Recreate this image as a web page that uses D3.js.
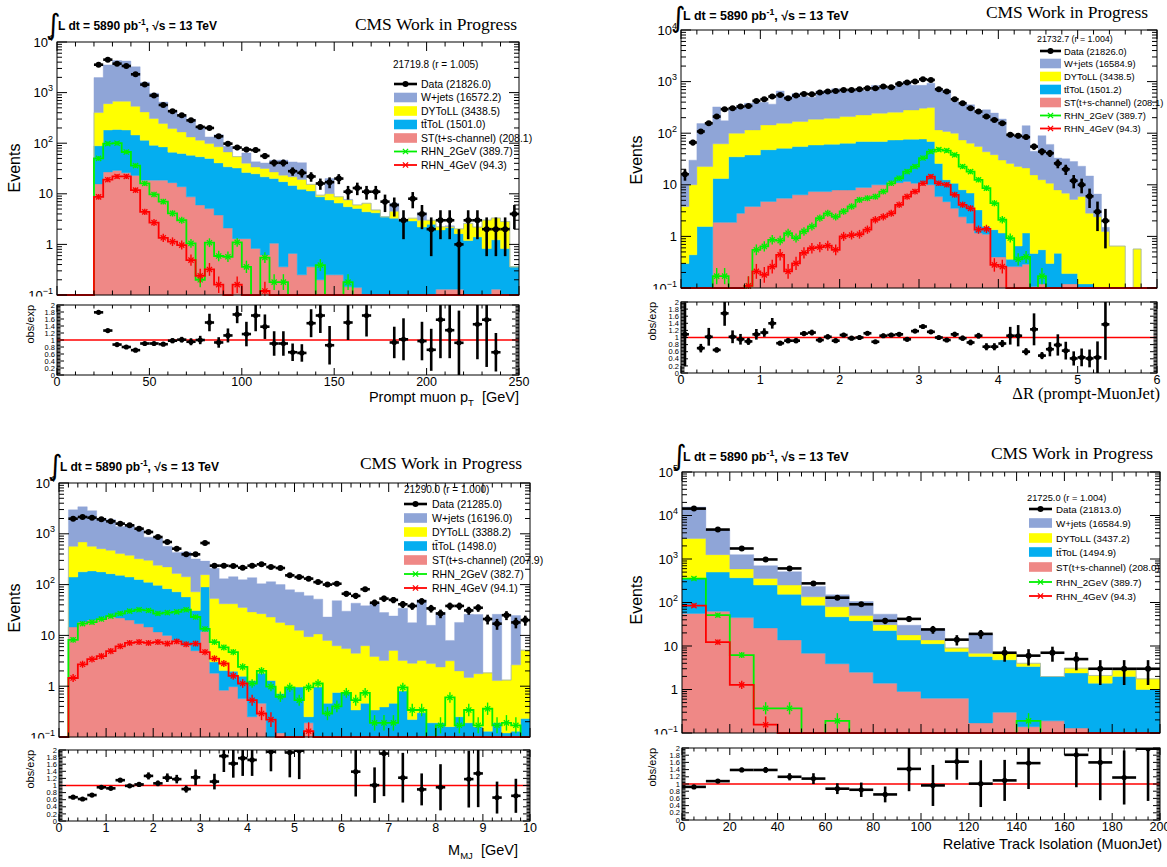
<!DOCTYPE html>
<html>
<head>
<meta charset="utf-8">
<script src="https://cdn.jsdelivr.net/npm/d3@7"></script>
<style>
  body { margin: 0; background: #fff; }
  svg { display: block; }
  text { fill: #000; }
</style>
</head>
<body>
<svg id="canvas" width="1167" height="867"></svg>
<script>
// ---------------------------------------------------------------------------
// Prompt muon pT, 50 bins over 0-250 GeV
const ptData = [0,0,0,0,3560,4480,3730,3360,2300,1440,875,570,430,355,283,210,200,137,98,82,75,73,56,41,41,28,26,22,16,17,20,11,13,11,11,7,6,3,8,4,2,3,3,1,3,3,2,2,2,4];
const ptST   = [0,0,0,0,15.7,27,29,26,23,18.6,18.6,18.6,16.6,13.8,8.7,6.0,5.1,3.8,2.1,1.3,1.3,0.83,0.62,1.05,0.36,0.66,0.25,0.36,0.2,0.25,0.25,0.145,0.14,0.1,0,0,0,0,0,0,0,0.13,0.13,0.13,0,0,0,0.13,0,0];
const ptTT   = [0,0,0,0,73,155,158,156,122,96,72,66,50,49,49,48,45,37,32,31,25,24,21,19,17,14,12,11,8.5,7.3,6.3,5.4,5.0,4.3,4.2,3.5,3.3,3.0,2.9,2.2,2.5,1.8,2.0,1.5,1.2,1.4,0.83,1.1,0.83,0.36];
const ptDY   = [0,0,0,0,314,423,488,493,390,300,217,160,128,104,75,61,48,44,33,22,14,9,10,7,6,7,7,4,0.7,2.5,2.2,2.0,0.9,2.1,0.6,0,1.2,0,0.4,0.8,0.5,0.3,0.1,0.4,1.4,0.8,2.2,2.1,2.0,0];
const ptWJ   = [0,0,0,0,1577,2925,3615,3525,2705,1185,662,405,245,183,165,95,35,62,20,0,24,9,9,19,23,21,22,0,0,10,0,0.2,0,0,0,0,2,0,0,1.2,0,0,0.1,0,0,0,0,0,0,0];
const ptRHN2 = [0,0,0,0,50,98,100,67,36,16,9.7,7.0,4.1,3.0,1.05,0.2,1.08,0.59,0.57,1.1,0.36,0,0.55,0.18,0.18,0,0,0,0.39,0,0,0.18,0,0,0,0,0,0,0,0,0,0,0,0,0,0,0,0,0,0];
const ptRHN4 = [0,0,0,0,8.7,19,22,22,11.8,4.4,2.7,1.35,1.13,0.97,0.49,0.24,0.32,0.16,0,0.16,0,0,0.12,0,0,0,0,0,0,0,0,0,0,0,0,0,0,0,0,0,0,0,0,0,0,0,0,0,0,0];
const ptRatio = [null,null,null,null,1.79,1.27,0.87,0.80,0.71,0.90,0.90,0.88,0.98,1.01,0.95,1.0,1.5,0.93,1.13,1.73,1.17,1.70,1.38,0.90,0.90,0.65,0.63,1.48,1.70,0.85,null,1.5,null,1.7,null,null,0.93,1.02,null,0.97,0.72,1.58,1.28,0.92,null,1.45,1.58,0.65,null,null];
const ptRatioErr = [0,0,0,0,0.05,0.03,0.03,0.03,0.03,0.04,0.04,0.05,0.07,0.08,0.1,0.12,0.25,0.15,0.2,0.25,0.35,0.45,0.35,0.35,0.35,0.25,0.25,0.4,0.5,0.55,0,0.5,0,0.6,0,0,0.45,0.6,0,0.55,0.6,1.1,0.8,0.92,0,1.0,1.35,0.55,0,0];

// Delta R (prompt muon, muon jet), 60 bins over 0-6
const drData = [16,66,108,156,210,292,305,328,338,423,455,513,552,476,535,577,569,612,640,659,690,690,711,743,743,800,777,901,957,1000,1110,1077,711,640,455,381,305,263,210,181,156,93,89,84,55,44,41,26,20,12,10,6,3,2,0,0,0,0,0,0];
const drST   = [0,0,0,0,1.87,1.87,1.87,2.8,3.8,3.8,4.75,4.75,5.5,5.5,6.4,6.4,7.4,7.4,7.4,7.9,7.9,7.9,8.9,8.9,10,10,11.6,11,11.6,10.7,11,10,5.9,4.7,3.5,2.4,1.8,1.16,1.1,0.4,0.4,0.26,0.26,0.29,0.107,0.12,0.1,0.1,0.12,0.12,0,0,0,0,0,0,0,0,0,0];
const drTT   = [0.3,0.44,1.56,1.56,11.4,11.4,33,32,34,34,43,43,45.5,45.5,48.6,48.6,51.6,51.6,53.6,53.1,56,56,60,60,59,59,62,63,65,66,66,59,20,7.8,7.2,5.6,5.1,2.1,0.46,0.95,0.76,0.1,0.39,0.87,0.36,0.43,0.2,0.37,0.07,0.07,0.12,0.12,0,0,0,0,0,0,0,0];
const drDY   = [3.5,9.6,21,21,49,49,65,65,78,78,97,97,105,105,113,113,128,128,133,133,146,146,157,157,175,175,182,182,205,205,228,245,90,95.5,89,66,57,52,42,37,29,25.6,22,20,15.1,12,10.4,7.5,6.7,5.0,5.8,2.7,2.4,1.25,0.65,0.65,0,0.57,0,0];
const drWJ   = [11,20,131,130,261,112,199,245,264,272,254,221,501,367,420,352,312,471,433,530,435,494,485,437,600,518,470,571,725,565,542,614,595,580,317,315,291,195,240,207,158,63,62,119,29,77,50,25,25,23,17,12,4.2,0.25,0,0,0,0,0,0];
const drRHN2 = [0,0,0,0,0.17,0.17,0,0,0.11,0.55,0.64,0.86,0.83,1.16,0.93,1.25,1.56,2.26,2.8,2.4,3.05,3.8,5.1,5.5,5.9,7.4,10.7,13.4,18,22.6,33,44,48,46,38,22.6,18,12.5,8.6,4.4,2.1,0.93,0.36,0.4,0,0.17,0,0,0,0,0,0,0,0,0,0,0,0,0,0];
const drRHN4 = [0,0,0,0,0,0,0,0,0.11,0.21,0.18,0.26,0.44,0.21,0.3,0.48,0.59,0.62,0.66,0.55,1.0,1.06,1.1,1.35,2.1,2.4,2.8,4.1,5.9,7.4,10.7,14.4,10.7,10,6.4,4.1,3.5,1.35,1.4,0.28,0.26,0,0,0,0,0,0,0,0,0,0,0,0,0,0,0,0,0,0,0];
const drRatio = [1.09,null,0.70,1.02,0.65,1.68,1.02,0.95,0.89,1.09,1.14,1.40,0.84,0.91,0.91,1.11,1.14,0.93,1.02,0.91,1.07,0.98,1.0,1.12,0.88,1.05,1.07,1.09,0.95,1.18,1.31,1.16,1.0,0.93,1.09,0.98,0.86,1.05,0.74,0.74,0.83,1.05,1.05,0.60,1.23,0.49,0.67,0.79,0.63,0.41,0.44,0.41,0.44,1.37,null,null,null,null,null,null];
const drRatioErr = [0.9,0,0.12,0.25,0.07,0.35,0.18,0.15,0.1,0.15,0.12,0.15,0.06,0.07,0.07,0.07,0.08,0.07,0.07,0.06,0.06,0.06,0.06,0.06,0.05,0.06,0.06,0.05,0.05,0.05,0.05,0.05,0.05,0.06,0.07,0.07,0.08,0.08,0.1,0.1,0.1,0.25,0.3,0.1,0.45,0.1,0.2,0.3,0.25,0.2,0.25,0.25,0.45,1.0,0,0,0,0,0,0];

// Muon-jet mass M_MJ, 50 bins over 0-10 GeV
const mjData = [0,1985,2143,2080,1928,1760,1584,1468,1262,1085,864,690,510,394,394,659,236,236,232,215,236,251,222,212,152,141,131,112,100,104,66,60,81,44,53,50,41,38,47,34,27,38,38,31,35,21,17,25,18,20];
const mjST   = [0,14.6,18.3,20,22,23,22,20,17,14.6,11.7,10,8,6.3,5.0,12,1.8,0.83,0.98,0.57,0.25,0.46,0.1,0.12,0,0,0.19,0,0,0,0,0,0,0,0,0,0,0,0,0,0,0,0,0,0,0,0,0,0,0];
const mjTT   = [0,126,160,166,156,141,130,121,109,97,85,73,64,51,26,78,1.2,1.2,1.0,1.0,1.05,1.34,1.2,0.6,0.96,0.96,0.06,0.96,0.46,0.75,0.75,0.34,0.46,0.34,0.39,0.46,0.8,0.22,0.3,0.19,0.19,0.16,0.25,0.19,0.16,0.13,0.19,0.12,0.13,0.23];
const mjDY   = [0,425,512,380,331,309,256,236,197,189,144,140,94,85,41,67,50,40,40,34,27.7,25,21.7,17.3,15,11.6,9.2,9.7,7.5,5.5,4.75,4.1,5.8,3.5,2.8,4.6,2.4,2.6,2.9,2.6,2.2,3.0,1.75,1.3,1.6,1.7,1.1,1.2,2.5,4.9];
const mjWJ   = [0,2394,2710,2284,1521,1427,992,1103,897,559,579,347,264,298,248,133,157,88,101,89,108,77,91,82,63,58,51,41,15,42,24.5,38.6,32,40,25,19,31,15,47,13,26,4.8,16,24.5,24,0,24.7,0,22,0];
const mjRHN2 = [0,8.2,17,18.3,21,24,27,30,32,31,27,28,29,32,23,13.4,7.4,5.8,4.7,2.4,1.13,2.0,0.98,0.62,0.95,0.53,0.95,1.13,0.29,0.4,0.74,0.53,0.74,0.19,0.19,0.19,0.95,0.34,0.34,0,0.17,0.6,0.17,0.34,0.17,0.36,0.17,0.19,0.17,0];
const mjRHN4 = [0,1.45,2.7,3.4,3.9,4.9,6.1,7.1,7.4,7.1,7.4,6.9,7.6,6.7,6.9,4.7,3.5,2.8,1.6,1.13,0.53,0.29,0.22,0,0,0,0.13,0,0,0,0,0,0,0,0,0,0,0,0,0,0,0,0,0,0,0,0,0,0,0];
const mjRatio = [null,0.67,0.62,0.73,0.95,0.92,1.15,0.99,1.03,1.27,1.06,1.22,1.18,0.90,1.23,null,1.11,1.83,1.62,1.77,1.72,null,1.95,null,1.93,1.98,null,null,null,null,null,1.39,null,1.01,1.9,null,1.22,null,0.89,null,0.95,null,null,1.18,1.34,null,0.66,null,0.71,null];
const mjRatioErr = [0,0.03,0.03,0.04,0.05,0.04,0.05,0.05,0.06,0.1,0.08,0.12,0.12,0.1,0.22,0,0.22,0.45,0.4,0.5,0.45,0,0.55,0,0.7,0.8,0,0,0,0,0,0.7,0,0.5,1.2,0,0.7,0,0.45,0,0.65,0,0,0.8,0.95,0,0.45,0,0.48,0];

// Relative track isolation of the muon jet, 20 bins over 0-200
const isoData = [14400,4750,1745,976,607,275,129,91,38,42,24,14,19,7,6,7,5,3,3,3];
const isoST   = [56,63,45,26,13.8,6.8,3.9,2.5,1.4,0.9,0.63,0.63,0.17,0.3,0.14,0.19,0.13,0,0,0];
const isoTT   = [301,437,325,226,140,80,43,35.5,21.2,12.8,10.6,6.8,5.6,4.5,3.26,1.8,2.27,1.4,2.0,1.0];
const isoDY   = [2593,760,220,105,98,48,33,12,8.4,4.3,2.5,1.6,1.0,2.0,0.6,0,0.7,0.7,0.8,0.76];
const isoWJ   = [12650,3440,670,343,258,100,70,55,23,12,11.3,0,12.2,0,0,0,0,0,0,0];
const isoRHN2 = [355,51,6.2,0.37,0.37,0,0.19,0,0,0,0,0,0,0,0.19,0,0,0,0,0];
const isoRHN4 = [85,12.3,1.28,0.155,0,0,0,0,0,0,0,0,0,0,0,0,0,0,0,0];
const isoRatio = [0.92,1.08,1.39,1.39,1.2,1.15,0.87,0.84,0.71,1.42,0.96,1.62,1.01,1.1,1.58,null,1.81,1.6,1.18,1.98];
const isoRatioErr = [0.03,0.03,0.06,0.08,0.1,0.15,0.15,0.2,0.22,0.62,0.57,0.5,0.65,0.57,0.72,0,0.9,1.05,0.75,1.45];

// Legend texts
const ptLegend  = ["21719.8 (r = 1.005)", "Data (21826.0)", "W+jets (16572.2)", "DYToLL (3438.5)", "tt\u0304ToL (1501.0)", "ST(t+s-channel) (208.1)", "RHN_2GeV (389.7)", "RHN_4GeV (94.3)"];
const drLegend  = ["21732.7 (r = 1.004)", "Data (21826.0)", "W+jets (16584.9)", "DYToLL (3438.5)", "tt\u0304ToL (1501.2)", "ST(t+s-channel) (208.1)", "RHN_2GeV (389.7)", "RHN_4GeV (94.3)"];
const mjLegend  = ["21290.0 (r = 1.000)", "Data (21285.0)", "W+jets (16196.0)", "DYToLL (3388.2)", "tt\u0304ToL (1498.0)", "ST(t+s-channel) (207.9)", "RHN_2GeV (382.7)", "RHN_4GeV (94.1)"];
const isoLegend = ["21725.0 (r = 1.004)", "Data (21813.0)", "W+jets (16584.9)", "DYToLL (3437.2)", "tt\u0304ToL (1494.9)", "ST(t+s-channel) (208.0)", "RHN_2GeV (389.7)", "RHN_4GeV (94.3)"];

const ratioTicks = [0, 0.2, 0.4, 0.6, 0.8, 1, 1.2, 1.4, 1.6, 1.8, 2];
// ---------------------------------------------------------------------------

const SANS = "\"Liberation Sans\", Arial, Helvetica, sans-serif";
const SERIF = "\"Liberation Serif\", \"Times New Roman\", serif";
const COLORS = { wj: "#8fa5d7", dy: "#ffff00", tt: "#04aef0", st: "#ef8886", rhn2: "#00f000", rhn4: "#ff0000" };
const svg = d3.select("#canvas").style("font-family", SANS);

const panels = [
  { id: "pt", xDomain: [0, 250], yDomain: [0.1, 1e4], x0: 57, x1: 519, y0: 42, y1: 295, ry0: 305, ry1: 375,
    xMajor: 50, xMinor: 10, data: ptData, st: ptST, tt: ptTT, dy: ptDY, wj: ptWJ, rhn2: ptRHN2, rhn4: ptRHN4,
    ratio: ptRatio, ratioErr: ptRatioErr, legend: ptLegend,
    lumi: { ix: 46, iy: 34, x: 58, y: 30, fs: 12 }, cms: { x: 517, y: 30 },
    leg: { hx: 393, hy: 64, rows: [84, 97.5, 111, 124.5, 138, 151.5, 165], bx0: 394, bx1: 417, tx: 421, fs: 10.5 },
    events: { x: 14, y: 168 }, obs: { x: 30 }, xLabelY: 386,
    xTitle: { x: 519, y: 406, serif: false, parts: [["Prompt muon p"], ["T", "sub"], ["\u00a0 [GeV]"]] } },
  { id: "dr", xDomain: [0, 6], yDomain: [0.1, 1e4], x0: 681, x1: 1157, y0: 30, y1: 288, ry0: 302, ry1: 373,
    xMajor: 1, xMinor: 0.2, data: drData, st: drST, tt: drTT, dy: drDY, wj: drWJ, rhn2: drRHN2, rhn4: drRHN4,
    ratio: drRatio, ratioErr: drRatioErr, legend: drLegend,
    lumi: { ix: 671, iy: 27, x: 683, y: 20, fs: 12.5 }, cms: { x: 1148, y: 18 },
    leg: { hx: 1037, hy: 38, rows: [51, 63.5, 76.5, 89.5, 102.5, 115.5, 128.5], bx0: 1040, bx1: 1061, tx: 1064, fs: 9.4 },
    events: { x: 636, y: 160 }, obs: { x: 652 }, xLabelY: 384,
    xTitle: { x: 1160, y: 403, serif: true, parts: [["\u0394R (prompt-MuonJet)"]] } },
  { id: "mj", xDomain: [0, 10], yDomain: [0.1, 1e4], x0: 59, x1: 530, y0: 483, y1: 737, ry0: 750, ry1: 821,
    xMajor: 1, xMinor: 0.2, data: mjData, st: mjST, tt: mjTT, dy: mjDY, wj: mjWJ, rhn2: mjRHN2, rhn4: mjRHN4,
    ratio: mjRatio, ratioErr: mjRatioErr, legend: mjLegend,
    lumi: { ix: 48, iy: 475, x: 60, y: 471, fs: 12 }, cms: { x: 522, y: 469 },
    leg: { hx: 404, hy: 489, rows: [504, 518, 532, 546, 560, 574, 588], bx0: 404, bx1: 427, tx: 432, fs: 10.5 },
    events: { x: 14, y: 608 }, obs: { x: 30 }, xLabelY: 832,
    xTitle: { x: 518, y: 859, serif: false, parts: [["M"], ["MJ", "sub"], ["\u00a0 [GeV]"]] } },
  { id: "iso", xDomain: [0, 200], yDomain: [0.1, 1e5], x0: 682, x1: 1160, y0: 472, y1: 733, ry0: 748, ry1: 820,
    xMajor: 20, xMinor: 5, data: isoData, st: isoST, tt: isoTT, dy: isoDY, wj: isoWJ, rhn2: isoRHN2, rhn4: isoRHN4,
    ratio: isoRatio, ratioErr: isoRatioErr, legend: isoLegend,
    lumi: { ix: 672, iy: 465, x: 683, y: 461, fs: 12.5 }, cms: { x: 1153, y: 459 },
    leg: { hx: 1027, hy: 497, rows: [509, 523, 538, 552, 567, 582, 596], bx0: 1029, bx1: 1052, tx: 1056, fs: 9.8 },
    events: { x: 636, y: 600 }, obs: { x: 652 }, xLabelY: 831,
    xTitle: { x: 1162, y: 853, serif: false, parts: [["Relative Track Isolation (MuonJet)"]] } }
];

function fmtTick(v) { return (+v.toFixed(2)).toString(); }

function drawPanel(p) {
  const g = svg.append("g").attr("class", "panel-" + p.id);
  const n = p.data.length;
  const bw = (p.xDomain[1] - p.xDomain[0]) / n;
  const edges = d3.range(n + 1).map(i => p.xDomain[0] + i * bw);
  const centers = d3.range(n).map(i => p.xDomain[0] + (i + 0.5) * bw);
  const x = d3.scaleLinear().domain(p.xDomain).range([p.x0, p.x1]);
  const y = d3.scaleLog().domain(p.yDomain).range([p.y1, p.y0]);
  const yr = d3.scaleLinear().domain([0, 2]).range([p.ry1, p.ry0]);
  const ymin = p.yDomain[0];
  const cy = v => y(Math.max(v, ymin));

  const defs = svg.append("defs");
  defs.append("clipPath").attr("id", "clip-" + p.id).append("rect")
    .attr("x", p.x0).attr("y", p.y0).attr("width", p.x1 - p.x0).attr("height", p.y1 - p.y0 + 1);
  defs.append("clipPath").attr("id", "rclip-" + p.id).append("rect")
    .attr("x", p.x0).attr("y", p.ry0).attr("width", p.x1 - p.x0).attr("height", p.ry1 - p.ry0);

  // ---- stacked backgrounds
  const plot = g.append("g").attr("clip-path", `url(#clip-${p.id})`);
  const rows = d3.range(n).map(i => ({ st: p.st[i], tt: p.tt[i], dy: p.dy[i], wj: p.wj[i] }));
  const layers = d3.stack().keys(["st", "tt", "dy", "wj"])(rows);
  const area = d3.area().x(d => x(d.x)).y0(d => cy(d.lo)).y1(d => cy(d.hi));
  layers.forEach(layer => {
    const pts = [];
    layer.forEach((d, i) => {
      pts.push({ x: edges[i], lo: d[0], hi: d[1] });
      pts.push({ x: edges[i + 1], lo: d[0], hi: d[1] });
    });
    plot.append("path").attr("d", area(pts)).attr("fill", COLORS[layer.key])
      .attr("stroke", COLORS[layer.key]).attr("stroke-width", 0.4);
  });

  // ---- signal histograms
  [["rhn2", p.rhn2], ["rhn4", p.rhn4]].forEach(([key, vals]) => {
    const pts = [];
    vals.forEach((v, i) => { pts.push([x(edges[i]), cy(v)]); pts.push([x(edges[i + 1]), cy(v)]); });
    plot.append("path").attr("d", d3.line()(pts)).attr("fill", "none")
      .attr("stroke", COLORS[key]).attr("stroke-width", 1.8);
    vals.forEach((v, i) => {
      if (v <= ymin) return;
      const cx = x(centers[i]), yy = y(v);
      const h = Math.min(12, 2 + 2.5 / Math.sqrt(v));
      plot.append("line").attr("x1", cx).attr("x2", cx).attr("y1", yy - h).attr("y2", yy + h)
        .attr("stroke", COLORS[key]).attr("stroke-width", 1.4);
      const s = 2.6;
      plot.append("path").attr("d", `M${cx - s},${yy - s}L${cx + s},${yy + s}M${cx - s},${yy + s}L${cx + s},${yy - s}`)
        .attr("stroke", COLORS[key]).attr("stroke-width", 1.3);
    });
  });

  // ---- data points
  p.data.forEach((v, i) => {
    if (v <= 0) return;
    const cx = x(centers[i]), e = Math.sqrt(v);
    plot.append("line").attr("x1", cx).attr("x2", cx).attr("y1", cy(v + e)).attr("y2", cy(v - e))
      .attr("stroke", "#000").attr("stroke-width", 2.6);
    plot.append("line").attr("x1", x(edges[i])).attr("x2", x(edges[i + 1])).attr("y1", y(v)).attr("y2", y(v))
      .attr("stroke", "#000").attr("stroke-width", 2.6);
    plot.append("circle").attr("cx", cx).attr("cy", y(v)).attr("r", 3).attr("fill", "#000");
  });

  // ---- main frame and ticks
  const axisG = g.append("g").attr("stroke", "#000").attr("stroke-width", 1);
  const xTicks = (major, minor) => {
    const out = [];
    const nMin = Math.round((p.xDomain[1] - p.xDomain[0]) / minor);
    for (let k = 0; k <= nMin; k++) {
      const v = p.xDomain[0] + k * minor;
      const isMajor = Math.abs(v / major - Math.round(v / major)) < 1e-6;
      out.push({ v, major: isMajor });
    }
    return out;
  };
  xTicks(p.xMajor, p.xMinor).forEach(t => {
    const L = t.major ? 9 : 4.5;
    axisG.append("line").attr("x1", x(t.v)).attr("x2", x(t.v)).attr("y1", p.y1).attr("y2", p.y1 - L);
    axisG.append("line").attr("x1", x(t.v)).attr("x2", x(t.v)).attr("y1", p.y0).attr("y2", p.y0 + L);
  });
  const dLo = Math.round(Math.log10(p.yDomain[0])), dHi = Math.round(Math.log10(p.yDomain[1]));
  for (let d = dLo; d <= dHi; d++) {
    for (let k = 1; k <= 9; k++) {
      const v = k * Math.pow(10, d);
      if (v > p.yDomain[1] * 1.0001) break;
      const L = k === 1 ? 10 : 5;
      axisG.append("line").attr("x1", p.x0).attr("x2", p.x0 + L).attr("y1", y(v)).attr("y2", y(v));
      axisG.append("line").attr("x1", p.x1).attr("x2", p.x1 - L).attr("y1", y(v)).attr("y2", y(v));
    }
    const t = g.append("text").attr("x", p.x0 - 4).attr("y", y(Math.pow(10, d)) + 4.5)
      .attr("text-anchor", "end").attr("font-size", 13);
    if (d === 0) t.text("1");
    else if (d === 1) t.text("10");
    else {
      t.text("10");
      t.append("tspan").attr("dy", -6).attr("font-size", 9).text(d < 0 ? "\u2212" + (-d) : d);
    }
  }
  g.append("rect").attr("x", p.x0).attr("y", p.y0).attr("width", p.x1 - p.x0).attr("height", p.y1 - p.y0)
    .attr("fill", "none").attr("stroke", "#000").attr("stroke-width", 1);

  // ---- legend
  const L = p.leg;
  g.append("text").attr("x", L.hx).attr("y", L.hy + 3.5).attr("font-size", L.fs - 0.5).text(p.legend[0]);
  const kinds = ["data", "wj", "dy", "tt", "st", "rhn2", "rhn4"];
  kinds.forEach((k, j) => {
    const ry = L.rows[j];
    if (k === "data") {
      g.append("line").attr("x1", L.bx0).attr("x2", L.bx1).attr("y1", ry).attr("y2", ry)
        .attr("stroke", "#000").attr("stroke-width", 2.6);
      g.append("circle").attr("cx", (L.bx0 + L.bx1) / 2).attr("cy", ry).attr("r", 3).attr("fill", "#000");
    } else if (k === "rhn2" || k === "rhn4") {
      g.append("line").attr("x1", L.bx0).attr("x2", L.bx1).attr("y1", ry).attr("y2", ry)
        .attr("stroke", COLORS[k]).attr("stroke-width", 1.8);
      const cx = (L.bx0 + L.bx1) / 2, s = 2.6;
      g.append("path").attr("d", `M${cx - s},${ry - s}L${cx + s},${ry + s}M${cx - s},${ry + s}L${cx + s},${ry - s}`)
        .attr("stroke", COLORS[k]).attr("stroke-width", 1.3);
    } else {
      g.append("rect").attr("x", L.bx0).attr("y", ry - 4.8).attr("width", L.bx1 - L.bx0).attr("height", 9.6)
        .attr("fill", COLORS[k]);
    }
    g.append("text").attr("x", L.tx).attr("y", ry + 3.7).attr("font-size", L.fs).text(p.legend[j + 1]);
  });

  // ---- header texts
  g.append("text").attr("x", p.lumi.ix).attr("y", p.lumi.iy).attr("font-size", 28)
    .style("font-family", "\"DejaVu Sans\", sans-serif").text("\u222B");
  const lt = g.append("text").attr("x", p.lumi.x).attr("y", p.lumi.y).attr("font-size", p.lumi.fs)
    .attr("font-weight", "bold").text("L dt = 5890 pb");
  lt.append("tspan").attr("dy", -5).attr("font-size", p.lumi.fs * 0.7).text("-1");
  lt.append("tspan").attr("dy", 5).text(", \u221As = 13 TeV");
  g.append("text").attr("x", p.cms.x).attr("y", p.cms.y).attr("text-anchor", "end")
    .style("font-family", SERIF).attr("font-size", 17.5)
    .text("CMS Work in Progress");
  g.append("text").attr("transform", `translate(${p.events.x + 6},${p.events.y}) rotate(-90)`)
    .attr("text-anchor", "middle").attr("font-size", 16).text("Events");

  // ---- ratio pad (covers the lower half of the bottom log label, as the separate pad does)
  g.append("rect").attr("x", p.x0 - 50).attr("y", p.y1 + 1.5).attr("width", p.x1 - p.x0 + 56)
    .attr("height", p.ry1 - p.y1 + 2).attr("fill", "#fff");
  const rplot = g.append("g").attr("clip-path", `url(#rclip-${p.id})`);
  rplot.append("line").attr("x1", p.x0).attr("x2", p.x1).attr("y1", yr(1)).attr("y2", yr(1))
    .attr("stroke", "#ff0000").attr("stroke-width", 1.5);
  p.ratio.forEach((r, i) => {
    if (r === null) return;
    const cx = x(centers[i]), e = p.ratioErr[i];
    rplot.append("line").attr("x1", cx).attr("x2", cx).attr("y1", yr(r + e)).attr("y2", yr(Math.max(0, r - e)))
      .attr("stroke", "#000").attr("stroke-width", 2.6);
    rplot.append("line").attr("x1", x(edges[i])).attr("x2", x(edges[i + 1])).attr("y1", yr(r)).attr("y2", yr(r))
      .attr("stroke", "#000").attr("stroke-width", 2.6);
    rplot.append("circle").attr("cx", cx).attr("cy", yr(r)).attr("r", 2.6).attr("fill", "#000");
  });
  const rAxis = g.append("g").attr("stroke", "#000").attr("stroke-width", 1);
  xTicks(p.xMajor, p.xMinor).forEach(t => {
    const Lt = t.major ? 7 : 3.5;
    rAxis.append("line").attr("x1", x(t.v)).attr("x2", x(t.v)).attr("y1", p.ry1).attr("y2", p.ry1 - Lt);
    rAxis.append("line").attr("x1", x(t.v)).attr("x2", x(t.v)).attr("y1", p.ry0).attr("y2", p.ry0 + Lt);
    if (t.major) {
      g.append("text").attr("x", x(t.v)).attr("y", p.xLabelY).attr("text-anchor", "middle")
        .attr("font-size", 12.5).text(fmtTick(t.v));
    }
  });
  for (let k = 0; k <= 50; k++) {
    const v = k * 0.04;
    const major = k % 5 === 0;
    const Lt = major ? 7 : 3.5;
    rAxis.append("line").attr("x1", p.x0).attr("x2", p.x0 + Lt).attr("y1", yr(v)).attr("y2", yr(v));
    rAxis.append("line").attr("x1", p.x1).attr("x2", p.x1 - Lt).attr("y1", yr(v)).attr("y2", yr(v));
  }
  ratioTicks.forEach(v => {
    g.append("text").attr("x", p.x0 - 2).attr("y", yr(v) + 2.6).attr("text-anchor", "end")
      .attr("font-size", 7.5).text(fmtTick(v));
  });
  g.append("rect").attr("x", p.x0).attr("y", p.ry0).attr("width", p.x1 - p.x0).attr("height", p.ry1 - p.ry0)
    .attr("fill", "none").attr("stroke", "#000").attr("stroke-width", 1);
  g.append("text").attr("transform", `translate(${p.obs.x + 4},${p.ry0}) rotate(-90)`)
    .attr("text-anchor", "end").attr("font-size", 11).text("obs/exp");

  // ---- x-axis title
  const xt = g.append("text").attr("x", p.xTitle.x).attr("y", p.xTitle.y).attr("text-anchor", "end")
    .attr("font-size", p.xTitle.serif ? 16.5 : 14.5);
  if (p.xTitle.serif) xt.style("font-family", SERIF);
  p.xTitle.parts.forEach(([s, kind]) => {
    if (kind === "sub") xt.append("tspan").attr("dy", 4).attr("font-size", 9.5).text(s);
    else xt.append("tspan").attr("dy", xt.selectAll("tspan").size() ? -4 : 0).text(s);
  });
}

panels.forEach(drawPanel);
</script>
</body>
</html>
